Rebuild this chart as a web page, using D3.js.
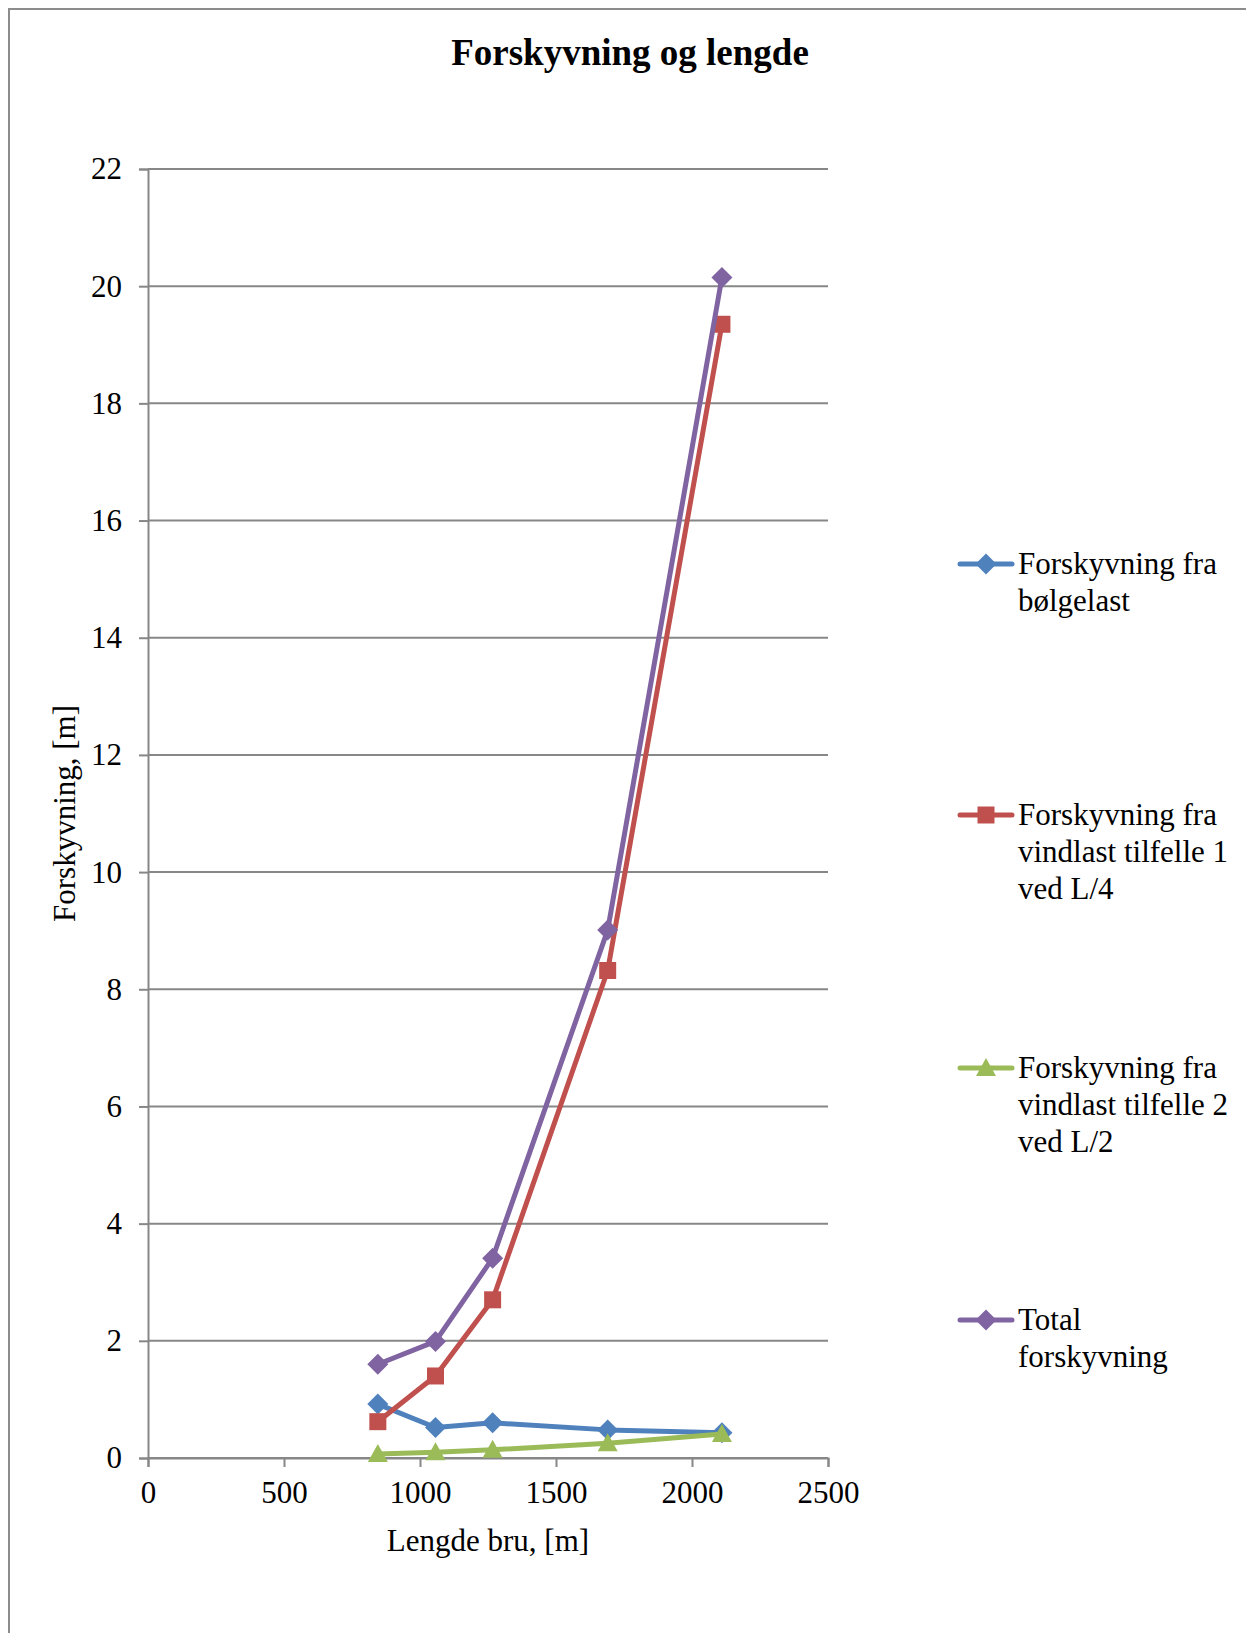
<!DOCTYPE html>
<html>
<head>
<meta charset="utf-8">
<script src="https://cdn.jsdelivr.net/npm/d3@7"></script>
<style>
  html, body { margin: 0; padding: 0; background: #fff; }
  svg { display: block; }
  text { font-family: "Liberation Serif", "Times New Roman", serif; fill: #000; }
</style>
</head>
<body>
<svg id="chart" width="1246" height="1633"></svg>
<script>
// Bridge length [m] for each case
const lengths = [845, 1057, 1267, 1690, 2110];

// Displacement [m] per load case
const bolgelast = [0.92, 0.52, 0.60, 0.48, 0.43];
const vindlast1 = [0.62, 1.40, 2.70, 8.32, 19.35];
const vindlast2 = [0.07, 0.10, 0.14, 0.25, 0.41];
const total     = [1.60, 1.99, 3.41, 9.01, 20.15];

const seriesNames = [
  ["Forskyvning fra", "bølgelast"],
  ["Forskyvning fra", "vindlast tilfelle 1", "ved L/4"],
  ["Forskyvning fra", "vindlast tilfelle 2", "ved L/2"],
  ["Total", "forskyvning"]
];
const seriesValues = [bolgelast, vindlast1, vindlast2, total];
const seriesColors = ["#4F81BD", "#C0504D", "#9BBB59", "#8064A2"];
const seriesMarkers = ["diamond", "square", "triangle", "diamond"];

const xTicks = [0, 500, 1000, 1500, 2000, 2500];
const yTicks = [0, 2, 4, 6, 8, 10, 12, 14, 16, 18, 20, 22];

const chartTitle = "Forskyvning og lengde";
const xTitle = "Lengde bru, [m]";
const yTitle = "Forskyvning, [m]";

const svg = d3.select("#chart");
const fontSize = 31;
const gridColor = "#878787";

// Outer chart frame
svg.append("path")
  .attr("d", "M9,1633 L9,9 L1246,9")
  .attr("fill", "none")
  .attr("stroke", "#8c8c8c")
  .attr("stroke-width", 2);

const plot = { left: 148, right: 828, top: 169, bottom: 1458 };

const x = d3.scaleLinear().domain([0, 2500]).range([plot.left, plot.right]);
const y = d3.scaleLinear().domain([0, 22]).range([plot.bottom, plot.top]);

// Horizontal gridlines
svg.append("g")
  .selectAll("line")
  .data(yTicks)
  .join("line")
  .attr("x1", plot.left)
  .attr("x2", plot.right)
  .attr("y1", d => y(d))
  .attr("y2", d => y(d))
  .attr("stroke", gridColor)
  .attr("stroke-width", 2);

// Y axis
const yAxis = svg.append("g")
  .attr("transform", `translate(${plot.left},0)`)
  .call(d3.axisLeft(y).tickValues(yTicks).tickSize(9).tickPadding(17).tickFormat(d3.format("d")));
yAxis.select(".domain").attr("stroke", gridColor).attr("stroke-width", 2);
yAxis.selectAll(".tick line").attr("stroke", gridColor).attr("stroke-width", 2);
yAxis.selectAll(".tick text")
  .attr("font-family", "Liberation Serif")
  .attr("font-size", fontSize)
  .attr("fill", "#000");

// X axis
const xAxis = svg.append("g")
  .attr("transform", `translate(0,${plot.bottom})`)
  .call(d3.axisBottom(x).tickValues(xTicks).tickSize(9).tickPadding(14).tickFormat(d3.format("d")));
xAxis.select(".domain").attr("stroke", gridColor).attr("stroke-width", 2);
xAxis.selectAll(".tick line").attr("stroke", gridColor).attr("stroke-width", 2);
xAxis.selectAll(".tick text")
  .attr("font-family", "Liberation Serif")
  .attr("font-size", fontSize)
  .attr("fill", "#000");

// Titles
svg.append("text")
  .attr("x", 630)
  .attr("y", 65)
  .attr("text-anchor", "middle")
  .attr("font-weight", "bold")
  .attr("font-size", 37)
  .text(chartTitle);

svg.append("text")
  .attr("x", (plot.left + plot.right) / 2)
  .attr("y", 1551)
  .attr("text-anchor", "middle")
  .attr("font-size", fontSize)
  .text(xTitle);

svg.append("text")
  .attr("transform", `translate(75,${(plot.top + plot.bottom) / 2}) rotate(-90)`)
  .attr("text-anchor", "middle")
  .attr("font-size", fontSize)
  .text(yTitle);

// Marker shapes
function markerD(kind) {
  if (kind === "diamond") return "M0,-10.5L10.5,0L0,10.5L-10.5,0Z";
  if (kind === "square") return "M-8.5,-8.5H8.5V8.5H-8.5Z";
  return "M0,-10L10,8H-10Z";
}

const line = d3.line()
  .x(d => x(d[0]))
  .y(d => y(d[1]));

seriesValues.forEach((vals, i) => {
  const pts = lengths.map((l, k) => [l, vals[k]]);
  const g = svg.append("g");
  g.append("path")
    .datum(pts)
    .attr("d", line)
    .attr("fill", "none")
    .attr("stroke", seriesColors[i])
    .attr("stroke-width", 5)
    .attr("stroke-linejoin", "round")
    .attr("stroke-linecap", "round");
  g.selectAll("path.marker")
    .data(pts)
    .join("path")
    .attr("class", "marker")
    .attr("d", markerD(seriesMarkers[i]))
    .attr("transform", d => `translate(${x(d[0])},${y(d[1])})`)
    .attr("fill", seriesColors[i]);
});

// Legend
const legendY = [564, 815, 1068, 1320];
const lineH = 37;
seriesNames.forEach((lines, i) => {
  const g = svg.append("g").attr("transform", `translate(0,${legendY[i]})`);
  g.append("line")
    .attr("x1", 960).attr("x2", 1012)
    .attr("y1", 0).attr("y2", 0)
    .attr("stroke", seriesColors[i])
    .attr("stroke-width", 5)
    .attr("stroke-linecap", "round");
  g.append("path")
    .attr("d", markerD(seriesMarkers[i]))
    .attr("transform", "translate(986,0)")
    .attr("fill", seriesColors[i]);
  const t = g.append("text")
    .attr("x", 1018)
    .attr("y", 10)
    .attr("font-size", fontSize);
  lines.forEach((s, k) => {
    t.append("tspan").attr("x", 1018).attr("dy", k === 0 ? 0 : lineH).text(s);
  });
});
</script>
</body>
</html>
